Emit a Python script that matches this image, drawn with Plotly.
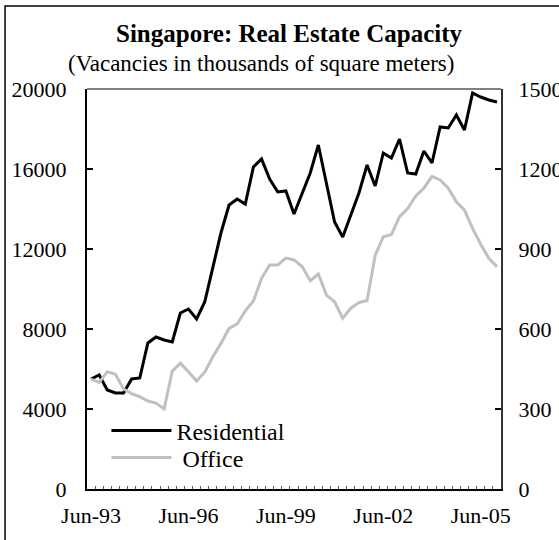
import pandas as pd
import plotly.graph_objects as go

# quarterly categories, Jun-93 .. Dec-05
quarters = list(pd.date_range("1993-06-01", periods=51, freq="3MS").strftime("%b-%y"))
label_every = ["Jun-93", "Jun-96", "Jun-99", "Jun-02", "Jun-05"]

# residential vacancies (left axis)
residential = [5500, 5700, 4950, 4800, 4800, 5500, 5550, 7300, 7600, 7450,
               7350, 8800, 9000, 8500, 9350, 11100, 12800, 14200, 14500, 14250,
               16100, 16500, 15500, 14850, 14900, 13750, 14750, 15800, 17200, 15300,
               13350, 12600, 13750, 14800, 16200, 15150, 16800, 16550, 17500, 15800,
               15750, 16900, 16300, 18100, 18050, 18700, 17950, 19800, 19600, 19450,
               19350]

# office vacancies (right axis)
office = [412, 400, 440, 430, 375, 358, 346, 330, 322, 300,
          442, 472, 440, 405, 438, 496, 546, 602, 619, 668,
          705, 790, 840, 840, 866, 859, 834, 781, 806, 727,
          702, 640, 678, 699, 707, 876, 946, 954, 1021, 1052,
          1099, 1128, 1172, 1159, 1128, 1077, 1046, 977, 918, 865,
          834]

serif = "Liberation Serif, Times New Roman, serif"

fig = go.Figure()
fig.add_trace(go.Scatter(x=quarters, y=residential, mode="lines", name="Residential",
                         line=dict(color="black", width=3), legend="legend"))
fig.add_trace(go.Scatter(x=quarters, y=office, mode="lines", name=" Office", yaxis="y2",
                         line=dict(color="#c0c0c0", width=3), legend="legend2"))

ticktext = [q if q in label_every else "" for q in quarters]

leg = dict(xanchor="left", yanchor="middle", bgcolor="rgba(0,0,0,0)",
           font=dict(size=24), itemwidth=60)

fig.update_layout(
    width=559, height=540,
    margin=dict(l=87, r=58, t=89, b=51),
    paper_bgcolor="white", plot_bgcolor="white",
    font=dict(family=serif, size=22, color="black"),
    showlegend=True,
    legend=dict(leg, x=0.047, y=0.145),
    legend2=dict(leg, x=0.047, y=0.078),
    xaxis=dict(type="category", range=[-0.5, 50.5], tickson="boundaries",
               tickvals=quarters, ticktext=ticktext, tickangle=0,
               ticks="inside", ticklen=3, tickcolor="#555", tickwidth=1,
               showline=True, linecolor="black", linewidth=2, automargin=False,
               showgrid=False, zeroline=False, ticklabelstandoff=6),
    yaxis=dict(range=[0, 20000], dtick=4000, tickformat="d",
               ticks="inside", ticklen=6, tickwidth=1.5, tickcolor="black",
               showline=True, linecolor="black", linewidth=2, automargin=False,
               showgrid=False, zeroline=False, ticklabelstandoff=14),
    yaxis2=dict(range=[0, 1500], dtick=300, overlaying="y", side="right",
                ticks="inside", ticklen=6, tickwidth=1.5, tickcolor="black",
                showline=True, linecolor="#333", linewidth=2, automargin=False,
                showgrid=False, zeroline=False, ticklabelstandoff=11),
)

# thin top border of plot area
fig.add_shape(type="line", xref="paper", yref="paper", x0=0, x1=1, y0=1, y1=1,
              line=dict(color="black", width=1))
# outer chart frame (right/bottom edges fall off the canvas)
fig.add_shape(type="rect", xref="paper", yref="paper", x0=-0.198, x1=1.2, y0=-0.2, y1=1.2075,
              line=dict(color="black", width=1.5))

fig.add_annotation(text="<b>Singapore: Real Estate Capacity</b>", xref="paper", yref="paper",
                   x=0.49, y=1.14, xanchor="center", yanchor="middle", showarrow=False,
                   font=dict(size=25, family=serif))
fig.add_annotation(text="(Vacancies in thousands of square meters)", xref="paper", yref="paper",
                   x=0.42, y=1.065, xanchor="center", yanchor="middle", showarrow=False,
                   font=dict(size=23, family=serif))

# page body has an 8px default margin; drop it so the figure sits at the corner
fig.write_html("out.html", config={"displayModeBar": False},
               post_script="document.body.style.margin='0';")
